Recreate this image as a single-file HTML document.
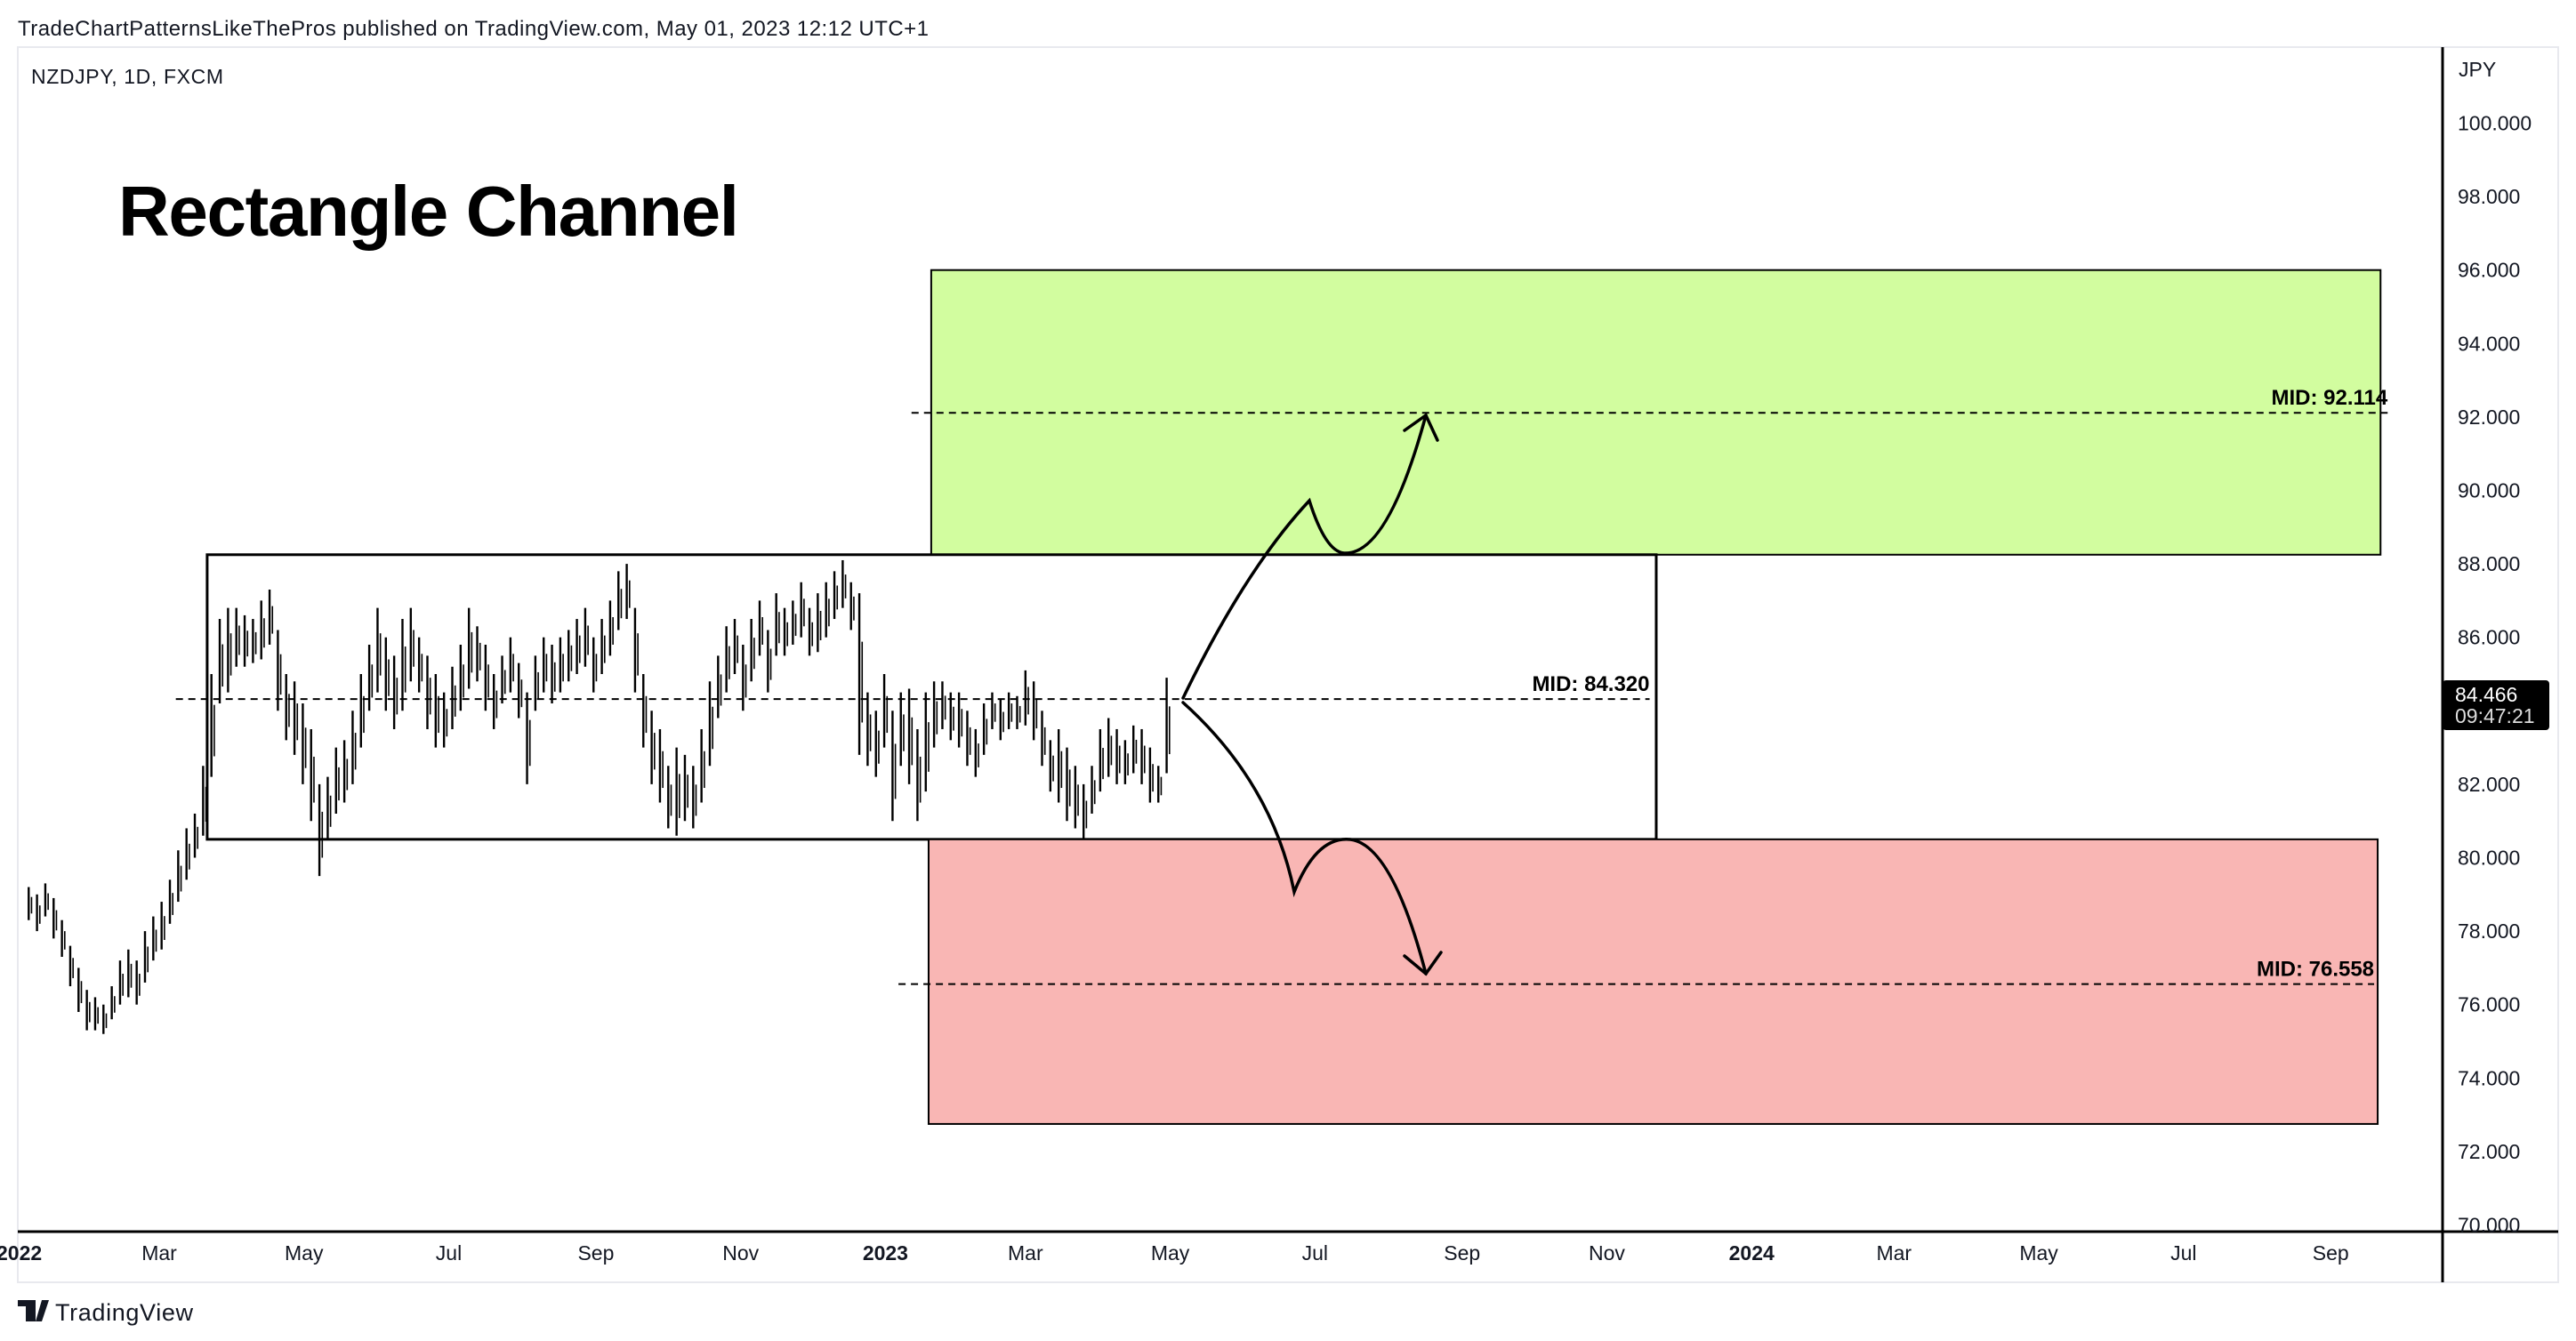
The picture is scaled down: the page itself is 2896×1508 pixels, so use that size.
<!DOCTYPE html>
<html><head><meta charset="utf-8"><style>
html,body{margin:0;padding:0;background:#fff;}
svg{display:block;font-family:"Liberation Sans",sans-serif;}
</style></head><body>
<svg id="c" width="2896" height="1508" viewBox="0 0 2896 1508" xmlns="http://www.w3.org/2000/svg">
<text x="20" y="40" font-size="24" fill="#131722" textLength="1024">TradeChartPatternsLikeThePros published on TradingView.com, May 01, 2023 12:12 UTC+1</text>
<rect x="20" y="53" width="2856" height="1389" fill="none" stroke="#e8e9ee" stroke-width="2"/>
<text x="35" y="94" font-size="23" fill="#131722" textLength="216">NZDJPY, 1D, FXCM</text>
<text x="133" y="265" font-size="80" font-weight="bold" fill="#000" textLength="698">Rectangle Channel</text>
<g id="zones"></g>
<g id="bars"></g>
<g id="mids"></g>
<g id="arrows" fill="none" stroke="#000" stroke-width="3.5" stroke-linecap="round">
<path d="M1330,785 Q1400,640 1472,563 Q1490,620 1511,622 Q1560,625 1603,467"/>
<path d="M1579,484 L1603,467 L1616,495"/>
<path d="M1330,790 Q1430,880 1455,1003 Q1480,940 1518,944 Q1565,950 1603,1095"/>
<path d="M1579,1075 L1603,1095 L1620,1071"/>
</g>
<line x1="2746" y1="53" x2="2746" y2="1442" stroke="#000" stroke-width="3"/>
<line x1="20" y1="1385" x2="2876" y2="1385" stroke="#000" stroke-width="3"/>
<text x="2764" y="86" font-size="23" fill="#131722">JPY</text>
<g id="yticks"></g>
<g id="xticks"></g>
<rect x="2746" y="765" width="120" height="56" rx="4" fill="#000"/>
<text x="2760" y="789" font-size="23" fill="#fff">84.466</text>
<text x="2760" y="813" font-size="23" fill="#ddd">09:47:21</text>
<g>
<path d="M20,1462 h16 v24 h-7 v-17 h-9z M33,1462 h7 v24 h-7z M40,1486 l7,-24 h8 l-8,24z" fill="#131722"/>
<text x="62" y="1485" font-size="27" fill="#131722" textLength="155">TradingView</text>
</g>
</svg>
<script>
const yTicks=[100,98,96,94,92,90,88,86,82,80,78,76,74,72,70];
const xTickLabels=["2022","Mar","May","Jul","Sep","Nov","2023","Mar","May","Jul","Sep","Nov","2024","Mar","May","Jul","Sep"];
const xTickDays=[0,59,120,181,243,304,365,424,485,546,608,669,730,790,851,912,974];
const barHigh=[79.2,79.0,79.3,78.9,78.3,77.6,77.0,76.4,76.2,76.0,76.5,77.2,77.5,77.2,78.0,78.4,78.8,79.4,80.2,80.8,81.2,82.5,85.0,86.5,86.8,86.8,86.6,86.5,87.0,87.3,86.2,85.0,84.8,84.2,83.5,82.0,82.2,83.0,83.2,84.0,85.0,85.8,86.8,86.0,85.5,86.5,86.8,86.0,85.5,85.0,84.5,85.2,85.8,86.8,86.3,85.8,85.0,85.5,86.0,85.3,84.5,85.5,86.0,85.8,86.0,86.2,86.5,86.8,86.0,86.5,87.0,87.8,88.0,86.8,85.0,84.0,83.5,82.5,83.0,82.8,82.5,83.5,84.8,85.5,86.3,86.5,85.8,86.5,87.0,86.2,87.2,86.8,87.0,87.5,86.8,87.2,87.5,87.8,88.1,87.5,87.2,84.5,84.0,85.0,84.0,84.5,84.6,83.5,84.5,84.8,84.8,84.5,84.5,84.0,83.5,84.2,84.5,84.3,84.5,84.4,85.1,84.8,84.0,83.2,83.5,83.0,82.5,82.0,82.5,83.5,83.8,83.5,83.2,83.6,83.5,83.0,82.5,84.9];
const barLow=[78.3,78.0,78.4,77.8,77.3,76.5,75.8,75.3,75.3,75.2,75.6,76.0,76.2,76.0,76.6,77.2,77.5,78.2,78.8,79.4,80.0,80.6,82.2,84.2,84.5,85.2,85.2,85.3,85.4,85.8,84.0,83.2,82.8,82.0,81.0,79.5,80.5,81.2,81.5,82.0,83.0,84.0,84.5,84.0,83.5,84.0,84.8,84.5,83.5,83.0,83.0,83.5,84.0,84.6,84.8,84.0,83.5,84.2,84.5,83.8,82.0,84.0,84.5,84.2,84.5,84.8,85.0,85.2,84.5,85.0,85.5,86.2,86.5,84.5,83.0,82.0,81.5,80.8,80.6,81.0,80.8,81.5,82.5,83.8,84.5,85.0,84.0,84.8,85.5,84.5,85.5,85.5,85.8,86.0,85.5,85.6,86.0,86.5,86.8,86.2,82.8,82.5,82.2,83.0,81.0,82.5,82.0,81.0,81.8,83.0,83.5,83.2,83.0,82.5,82.2,82.8,83.5,83.2,83.5,83.5,83.6,83.2,82.5,81.8,81.5,81.0,80.8,80.5,81.2,81.8,82.2,82.0,82.0,82.3,82.0,81.5,81.5,82.3];
const zoneTop=[96,88.25,80.5];
const zoneBottom=[88.25,80.5,72.75];
const zoneStartDay=[384.3,79.2,383.2];
const zoneEndDay=[995,689.8,993.8];
const zoneMid=[92.114,84.32,76.558];
const midStartDay=[376,66,370.5];
const midEndDay=[998,687,992.3];
const midLabels=["MID: 92.114","MID: 84.320","MID: 76.558"];

const NS="http://www.w3.org/2000/svg";
function yOf(p){return 138.5+(100-p)*41.3;}
function xOf(d){return 179+(d-59)*2.668;}
function mk(tag,attrs,parent){const e=document.createElementNS(NS,tag);for(const k in attrs)e.setAttribute(k,attrs[k]);parent.appendChild(e);return e;}

const yt=document.getElementById('yticks');
yTicks.forEach(v=>{const t=mk('text',{x:2763,y:yOf(v)+8,'font-size':23,fill:'#131722'},yt);


t.textContent=v.toFixed(3);});

const xt=document.getElementById('xticks');
xTickLabels.forEach((l,i)=>{const yr=/^\d{4}$/.test(l);const t=mk('text',{x:xOf(xTickDays[i]),y:1417,'font-size':23,fill:'#131722','text-anchor':'middle','font-weight':yr?'bold':'normal'},xt);


t.textContent=l;});

const zg=document.getElementById('zones');
const fills=['#d2fd9f','none','#f9b6b4'];
const znames=['target-up-zone','rectangle-channel','target-down-zone'];
zoneTop.forEach((t,i)=>{const r=mk('rect',{x:xOf(zoneStartDay[i]),y:yOf(t),width:xOf(zoneEndDay[i])-xOf(zoneStartDay[i]),height:yOf(zoneBottom[i])-yOf(t),fill:fills[i],stroke:'#000','stroke-width':i==1?3:2},zg);

});

const bg=document.getElementById('bars');
barHigh.forEach((h,i)=>{const d=4+i*3.5;const x=xOf(d);
const l=mk('line',{x1:x,x2:x,y1:yOf(h),y2:yOf(barLow[i]),stroke:'#000','stroke-width':2.4},bg);


const l2=mk('line',{x1:x+3.2,x2:x+3.2,y1:yOf(h-(h-barLow[i])*0.3),y2:yOf(barLow[i]+(h-barLow[i])*0.2),stroke:'#000','stroke-width':1.6},bg);

});

const mg=document.getElementById('mids');
zoneMid.forEach((m,i)=>{const endX=xOf(midEndDay[i]);
const ln=mk('line',{x1:xOf(midStartDay[i]),x2:endX,y1:yOf(m),y2:yOf(m),stroke:'#000','stroke-width':2,'stroke-dasharray':'8 6'},mg);


const t=mk('text',{x:endX,y:yOf(m)-9,'font-size':24,'font-weight':'bold','text-anchor':'end',fill:'#000'},mg);


t.textContent=midLabels[i];});
</script>
</body></html>
